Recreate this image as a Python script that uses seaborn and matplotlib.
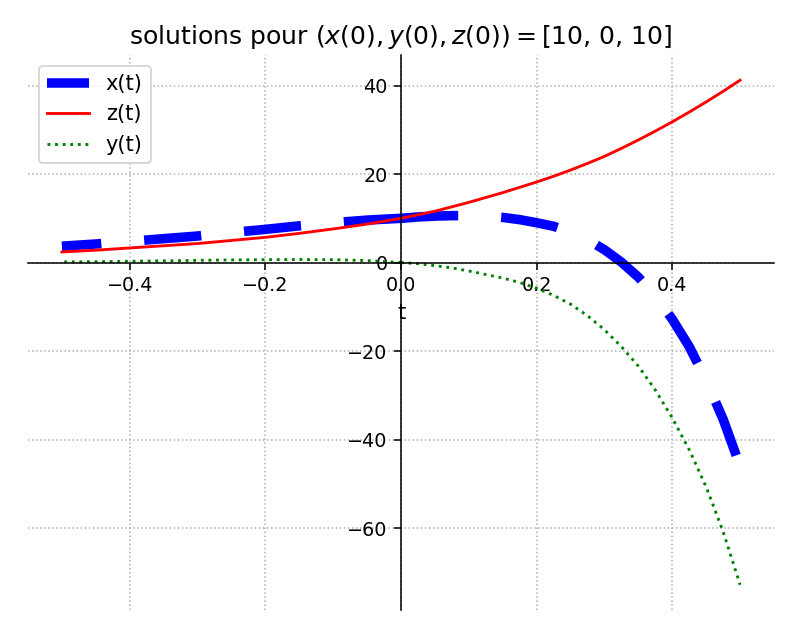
import matplotlib
matplotlib.use("Agg")
import matplotlib.pyplot as plt
import numpy as np
import pandas as pd
import seaborn as sns

# valeurs
t = [-0.5, -0.45, -0.4, -0.35, -0.3, -0.25, -0.2, -0.15, -0.1, -0.05,
     0.0, 0.025, 0.05, 0.075, 0.1, 0.125, 0.15, 0.175, 0.2, 0.225, 0.25,
     0.275, 0.3, 0.325, 0.35, 0.375, 0.4, 0.425, 0.45, 0.475, 0.5]
x_vals = [3.7, 4.2, 4.8, 5.4, 6.0, 6.8, 7.5, 8.3, 9.0, 9.6,
          10.0, 10.3, 10.5, 10.6, 10.6, 10.5, 10.2, 9.7, 9.0, 8.2, 6.9,
          5.2, 2.9, 0.1, -3.3, -7.6, -12.8, -19.0, -26.6, -35.4, -46.0]
z_vals = [2.4, 2.8, 3.3, 3.8, 4.3, 5.0, 5.7, 6.6, 7.6, 8.7,
          10.0, 10.8, 11.6, 12.6, 13.6, 14.7, 15.8, 17.0, 18.2, 19.5, 20.9,
          22.4, 24.0, 25.8, 27.7, 29.7, 31.8, 34.0, 36.3, 38.7, 41.2]
y_vals = [0.15, 0.2, 0.3, 0.4, 0.5, 0.6, 0.65, 0.7, 0.65, 0.45,
          0.0, -0.25, -0.7, -1.2, -1.9, -2.7, -3.5, -4.5, -5.8, -7.4, -9.4,
          -12.0, -15.2, -19.0, -23.4, -28.8, -35.1, -42.3, -50.7, -60.8, -72.8]
init = [10, 0, 10]

df = pd.DataFrame({"t": t, "x": x_vals, "y": y_vals, "z": z_vals})
# integration depuis t=0 vers l'arriere et vers l'avant
df_neg = df[df["t"] <= 0].iloc[::-1]
df_pos = df[df["t"] >= 0]

fig = plt.figure(figsize=(791 / 137.5, 640 / 137.5), dpi=137.5)
ax = fig.add_subplot(111)
fig.subplots_adjust(left=28 / 791, right=774 / 791, top=1 - 55 / 640, bottom=1 - 610 / 640)

styles = [
    ("x", "x(t)", dict(color="blue", lw=5, linestyle=(0, (6, 4.5)))),
    ("z", "z(t)", dict(color="red", lw=1.5)),
    ("y", "y(t)", dict(color="green", lw=1.5, linestyle=":")),
]
handles = []
for col, lab, kw in styles:
    for part in (df_neg, df_pos):
        sns.lineplot(data=part, x="t", y=col, ax=ax, sort=False, legend=False, **kw)
    handles.append((ax.lines[-1], lab))

ax.spines["left"].set_position("zero")
ax.spines["bottom"].set_position("zero")
ax.spines["top"].set_visible(False)
ax.spines["right"].set_visible(False)

ax.grid(True, linestyle=":", color="#b0b0b0", linewidth=0.8)
ax.set_xlabel("t", fontsize=11)
ax.set_ylabel("")
ax.set_title(f"solutions pour $(x(0),y(0),z(0))=${init}", fontsize=13.2)
ax.legend([h for h, _ in handles], [l for _, l in handles], loc="upper left", fontsize=11)

fig.savefig("out.png", dpi=137.5)
